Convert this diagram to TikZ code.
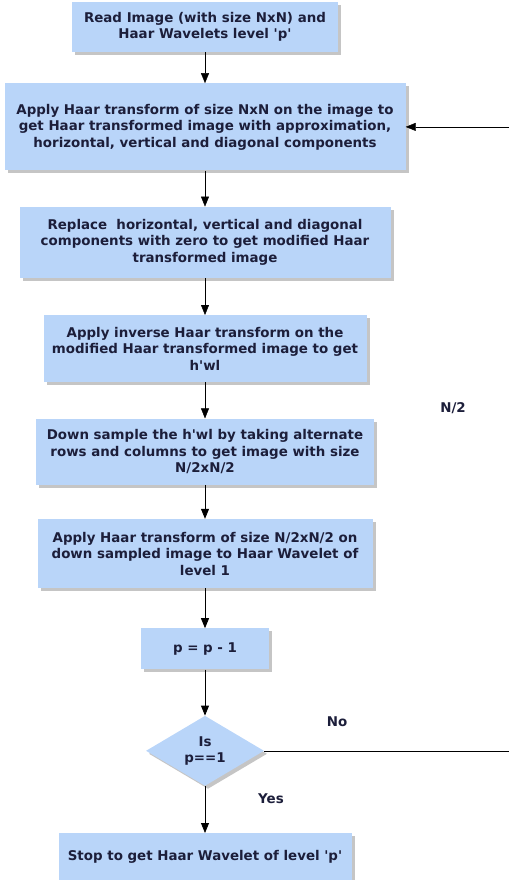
\documentclass[tikz,border=0pt]{standalone}
\usepackage{fontspec}
\setmainfont{DejaVu Sans}
\usetikzlibrary{arrows.meta, positioning, shapes.geometric, shadows}

\definecolor{boxblue}{RGB}{185,213,249}
\definecolor{inkblue}{RGB}{28,30,58}
\newcommand{\sq}{\textquotesingle}

\begin{document}
\begin{tikzpicture}[
    x=1pt, y=1pt,
    node distance=34pt,
    box/.style={fill=boxblue, align=center, inner sep=3pt,
                font=\fontsize{13.4}{16.5}\selectfont\bfseries, text=inkblue,
                drop shadow={shadow xshift=3pt, shadow yshift=-3pt, fill=black!45}},
    decision/.style={diamond, fill=boxblue, align=center, inner sep=0pt, aspect=1.7,
                     minimum width=118pt, minimum height=70pt,
                     font=\fontsize{13.4}{16.5}\selectfont\bfseries, text=inkblue,
                     drop shadow={shadow xshift=3pt, shadow yshift=-3pt, fill=black!45}},
    arr/.style={-{Triangle[length=10pt,width=8pt]}},
    lbl/.style={font=\fontsize{13.4}{16}\selectfont\bfseries, text=inkblue}
]
\useasboundingbox (0,0) rectangle (509,-880);

\node[box, minimum width=266pt, minimum height=50pt] at (205,-27) (read)
    {Read Image (with size NxN) and\\Haar Wavelets level \sq p\sq};
\node[box, minimum width=401pt, minimum height=87pt, below=31pt of read] (apply)
    {Apply Haar transform of size NxN on the image to\\get Haar transformed image with approximation,\\horizontal, vertical and diagonal components};
\node[box, minimum width=371pt, minimum height=71pt, below=36pt of apply] (zero)
    {Replace\ \ horizontal, vertical and diagonal\\components with zero to get modified Haar\\transformed image};
\node[box, minimum width=323pt, minimum height=67pt, below=37pt of zero] (inv)
    {Apply inverse Haar transform on the\\modified Haar transformed image to get\\h\sq wl};
\node[box, minimum width=338pt, minimum height=66pt, below=36pt of inv] (down)
    {Down sample the h\sq wl by taking alternate\\rows and columns to get image with size\\N/2xN/2};
\node[box, minimum width=335pt, minimum height=69pt, below=34pt of down] (half)
    {Apply Haar transform of size N/2xN/2 on\\down sampled image to Haar Wavelet of\\level 1};
\node[box, minimum width=128pt, minimum height=41pt, below=40pt of half] (dec)
    {p = p - 1};
\node[decision, below=46pt of dec] (test) {Is\\p==1};
\node[box, minimum width=293pt, minimum height=48pt, below=47pt of test] (stop)
    {Stop to get Haar Wavelet of level \sq p\sq};

\node[lbl] at (453,-408) (nhalf) {N/2};
\node[lbl] at (337,-722) (no) {No};
\node[lbl] at (271,-799) (yes) {Yes};
\coordinate (rim) at (509,0);

\draw[arr] (read) -- (apply);
\draw[arr] (apply) -- (zero);
\draw[arr] (zero) -- (inv);
\draw[arr] (inv) -- (down);
\draw[arr, thick] (down) -- (half);
\draw[arr, thick] (half) -- (dec);
\draw[arr, thick] (dec) -- (test);
\draw[arr, thick] (test) -- (stop);
\draw (test.east) -- (test.east -| rim);
\draw[arr] (apply.east -| rim) -- (apply.east);
\end{tikzpicture}
\end{document}
